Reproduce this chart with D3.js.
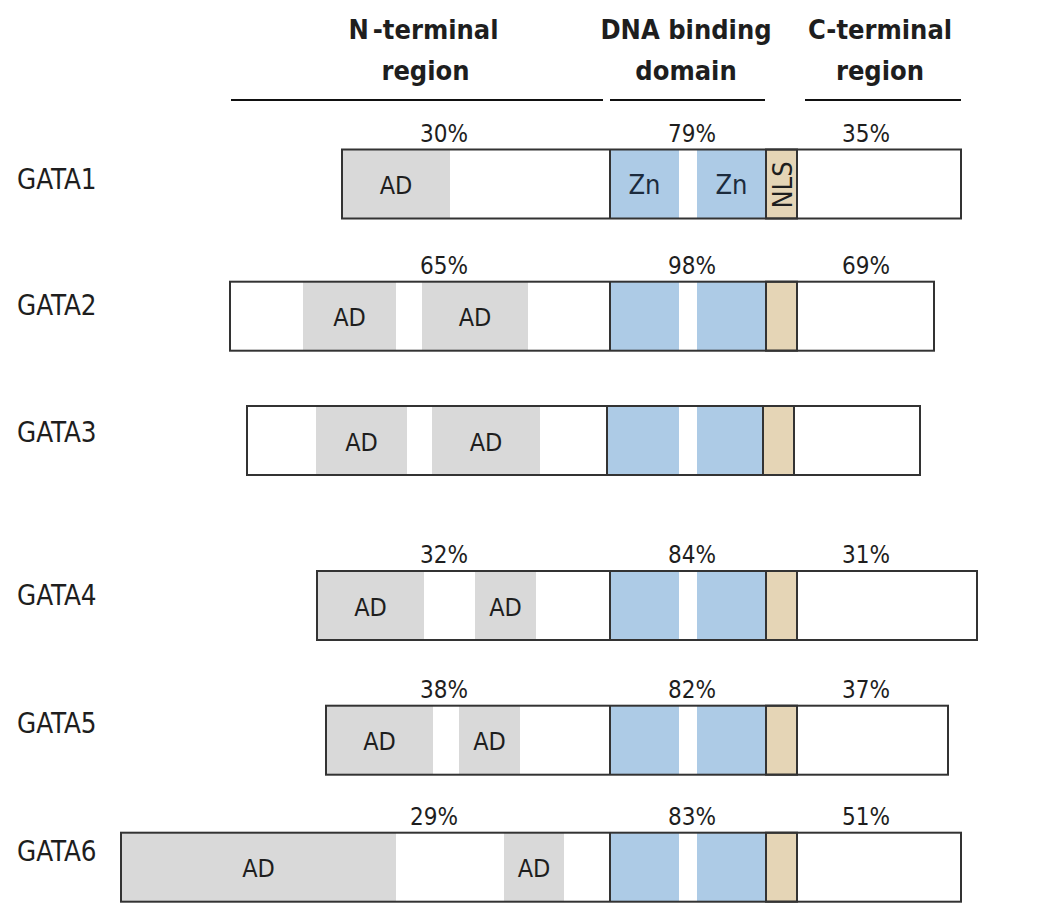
<!DOCTYPE html>
<html>
<head>
<meta charset="utf-8">
<script src="https://cdn.jsdelivr.net/npm/d3@7"></script>
<style>
  html, body { margin: 0; padding: 0; background: #ffffff; }
  svg { display: block; }
  text { font-family: "DejaVu Sans Condensed", "DejaVu Sans", sans-serif; fill: #1e1e1e; }
</style>
</head>
<body>
<svg id="chart" width="1051" height="922"></svg>
<script>
// ---------- DATA (positions in alignment units; 0 = start of DNA binding domain) ----------
const genes = ["GATA1", "GATA2", "GATA3", "GATA4", "GATA5", "GATA6"];

// full protein extent [start, end]
const proteinExtent = [
  [-268, 351],
  [-380, 324],
  [-363, 310],
  [-293, 367],
  [-284, 338],
  [-489, 351]
];

// activation domains (AD) per gene
const adDomains = [
  [[-268, -160]],
  [[-307, -214], [-188, -82]],
  [[-294, -203], [-178, -70]],
  [[-293, -186], [-135, -74]],
  [[-284, -177], [-151, -90]],
  [[-489, -214], [-106, -46]]
];

// zinc fingers per gene
const znFingers = [
  [[0, 69], [87, 156]],
  [[0, 69], [87, 156]],
  [[-3, 69], [87, 153]],
  [[0, 69], [87, 156]],
  [[0, 69], [87, 156]],
  [[0, 69], [87, 156]]
];

// nuclear localisation signal per gene
const nlsDomain = [
  [156, 187],
  [156, 187],
  [153, 184],
  [156, 187],
  [156, 187],
  [156, 187]
];

// identity (%) per region; null = no value shown
const identityN   = [30, 65, null, 32, 38, 29];
const identityDBD = [79, 98, null, 84, 82, 83];
const identityC   = [35, 69, null, 31, 37, 51];

// header regions: label lines and extent
const regionNames = [["N-terminal", "region"], ["DNA binding", "domain"], ["C-terminal", "region"]];
const regionExtent = [[-379, -7], [0, 155], [195, 351]];

// ---------- LAYOUT ----------
const svg = d3.select("#chart");
const x = d3.scaleLinear().domain([-490, 370]).range([120, 980]);
const rowTop = d3.scaleOrdinal().domain(genes).range([149.5, 281.7, 406, 571, 705.7, 832.7]);
const labelBase = d3.scaleOrdinal().domain(genes).range([189, 315, 442, 605, 733, 861]);
const boxH = 69;
const pctCols = [-166, 82, 256];       // label columns in alignment units
const headerCenters = [-184.5, 76, 270];

const colors = { ad: "#d9d9d9", zn: "#adcbe6", nls: "#e5d5b6", stroke: "#333333" };

// ---------- HEADER ----------
const header = svg.append("g");
regionNames.forEach((lines, i) => {
  const t = header.append("text")
    .attr("x", x(headerCenters[i]))
    .attr("text-anchor", "middle")
    .style("font-weight", "bold")
    .style("font-size", "27px");
  lines.forEach((ln, j) => {
    if (i === 0 && j === 0) {
      t.append("tspan").attr("x", x(headerCenters[i]) - 2).attr("y", 39).text("N");
      t.append("tspan").attr("dx", 4).text("-terminal");
    } else {
      t.append("tspan").attr("x", x(headerCenters[i])).attr("y", 39 + j * 41).text(ln);
    }
  });
  header.append("line")
    .attr("x1", x(regionExtent[i][0])).attr("x2", x(regionExtent[i][1]))
    .attr("y1", 100).attr("y2", 100)
    .attr("stroke", "#111").attr("stroke-width", 2);
});

// ---------- ROWS ----------
genes.forEach((g, i) => {
  const top = rowTop(g);
  const mid = top + boxH / 2;
  const row = svg.append("g").attr("class", "row");

  // outer white box fill
  row.append("rect")
    .attr("x", x(proteinExtent[i][0])).attr("y", top)
    .attr("width", x(proteinExtent[i][1]) - x(proteinExtent[i][0]))
    .attr("height", boxH)
    .attr("fill", "#fff");

  // AD
  row.selectAll("rect.ad").data(adDomains[i]).join("rect")
    .attr("class", "ad")
    .attr("x", d => x(d[0])).attr("y", top)
    .attr("width", d => x(d[1]) - x(d[0])).attr("height", boxH)
    .attr("fill", colors.ad);
  row.selectAll("text.ad").data(adDomains[i]).join("text")
    .attr("class", "ad")
    .attr("x", d => (x(d[0]) + x(d[1])) / 2).attr("y", mid + 10)
    .attr("text-anchor", "middle")
    .style("font-size", "25px")
    .text("AD");

  // Zn fingers
  row.selectAll("rect.zn").data(znFingers[i]).join("rect")
    .attr("class", "zn")
    .attr("x", d => x(d[0])).attr("y", top)
    .attr("width", d => x(d[1]) - x(d[0])).attr("height", boxH)
    .attr("fill", colors.zn);
  if (i === 0) {
    row.selectAll("text.zn").data(znFingers[i]).join("text")
      .attr("class", "zn")
      .attr("x", d => (x(d[0]) + x(d[1])) / 2).attr("y", mid + 10)
      .attr("text-anchor", "middle")
      .style("font-size", "27px")
      .style("fill", "#1c2b3d")
      .text("Zn");
  }

  // NLS
  const nls = nlsDomain[i];
  row.append("rect")
    .attr("x", x(nls[0])).attr("y", top)
    .attr("width", x(nls[1]) - x(nls[0])).attr("height", boxH)
    .attr("fill", colors.nls)
    .attr("stroke", colors.stroke).attr("stroke-width", 2);
  if (i === 0) {
    const cx = (x(nls[0]) + x(nls[1])) / 2;
    row.append("text")
      .attr("transform", `translate(${cx + 10},${mid + 1}) rotate(-90)`)
      .attr("text-anchor", "middle")
      .style("font-size", "27px")
      .text("NLS");
  }

  // DBD left boundary line
  row.append("line")
    .attr("x1", x(znFingers[i][0][0])).attr("x2", x(znFingers[i][0][0]))
    .attr("y1", top).attr("y2", top + boxH)
    .attr("stroke", colors.stroke).attr("stroke-width", 2);

  // outer outline
  row.append("rect")
    .attr("x", x(proteinExtent[i][0])).attr("y", top)
    .attr("width", x(proteinExtent[i][1]) - x(proteinExtent[i][0]))
    .attr("height", boxH)
    .attr("fill", "none")
    .attr("stroke", colors.stroke).attr("stroke-width", 2);

  // gene label
  row.append("text")
    .attr("x", 17).attr("y", labelBase(g))
    .style("font-size", "27.5px")
    .text(g);

  // identity labels
  [identityN[i], identityDBD[i], identityC[i]].forEach((v, k) => {
    if (v === null) return;
    const col = (k === 0 && g === "GATA6") ? pctCols[0] - 10 : pctCols[k];
    row.append("text")
      .attr("x", x(col)).attr("y", top - 8)
      .attr("text-anchor", "middle")
      .style("font-size", "24px")
      .text(v + "%");
  });
});
</script>
</body>
</html>
